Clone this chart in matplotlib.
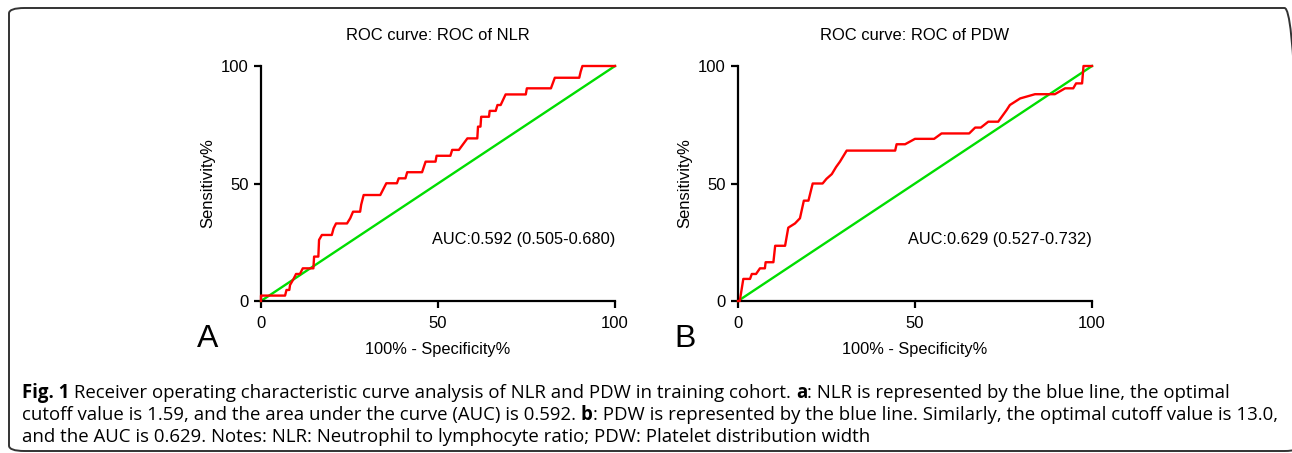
import matplotlib

matplotlib.use("Agg")
import matplotlib.pyplot as plt  # noqa: E402
from matplotlib.patches import FancyBboxPatch  # noqa: E402

plt.rcParams["font.family"] = ["Liberation Sans", "DejaVu Sans"]

# ROC of NLR: 100% - specificity (x) and sensitivity (y)
nlr_x = [0, 0, 6.8, 7.2, 8.0, 8.2, 9.2, 9.9, 11.0, 11.8, 14.8, 15.0, 16.2, 16.4,
         17.2, 20.0, 20.5, 21.2, 24.3, 25.2, 26.0, 28.0, 28.3, 29.0, 33.7, 35.4,
         38.4, 38.9, 40.8, 41.3, 45.5, 46.5, 49.3, 49.6, 53.5, 54.0, 55.9, 58.3,
         61.1, 61.3, 62.0, 62.2, 64.4, 64.6, 66.3, 66.8, 67.7, 69.1, 74.8, 75.1,
         81.9, 83.0, 89.9, 90.3, 90.8, 100]
nlr_y = [0, 2.3, 2.3, 4.7, 4.7, 6.8, 9.4, 11.5, 11.5, 13.9, 13.9, 18.9, 18.9, 26.0,
         28.1, 28.1, 30.9, 33.0, 33.0, 35.2, 38.0, 38.0, 41.0, 45.1, 45.1, 50.1,
         50.1, 52.2, 52.2, 54.8, 54.8, 59.3, 59.3, 61.8, 61.8, 64.3, 64.3, 69.2,
         69.2, 74.2, 74.2, 78.4, 78.4, 80.9, 80.9, 83.4, 83.4, 87.9, 87.9, 90.5,
         90.5, 95.0, 95.0, 97.6, 100, 100]

# ROC of PDW
pdw_x = [0, 0.5, 1.0, 1.5, 3.4, 3.9, 5.1, 6.2, 7.6, 7.8, 10.0, 10.5, 13.3, 14.2,
         16.1, 17.5, 18.6, 19.9, 21.1, 23.9, 25.0, 26.5, 27.7, 28.8, 30.7, 44.4,
         44.8, 47.2, 50.0, 55.4, 57.5, 65.3, 67.0, 68.6, 70.7, 73.5, 75.9, 76.8,
         79.7, 83.9, 89.5, 92.4, 94.7, 95.5, 97.2, 97.6, 100]
pdw_y = [0, 0, 4.7, 9.4, 9.4, 11.5, 11.5, 13.9, 13.9, 16.5, 16.5, 23.5, 23.5, 31.2,
         33.0, 35.2, 42.7, 42.7, 50.0, 50.0, 52.0, 54.0, 57.0, 59.3, 64.0, 64.0,
         66.7, 66.7, 69.0, 69.0, 71.3, 71.3, 73.8, 73.8, 76.3, 76.3, 81.3, 83.4,
         86.2, 88.0, 88.0, 90.5, 90.5, 92.6, 92.6, 100, 100]

ref_line = [0, 100]
ticks = [0, 50, 100]
titles = ["ROC curve: ROC of NLR", "ROC curve: ROC of PDW"]
auc_labels = ["AUC:0.592 (0.505-0.680)", "AUC:0.629 (0.527-0.732)"]
panel_letters = ["A", "B"]

caption_lines = [
    [("Fig. 1", True),
     (" Receiver operating characteristic curve analysis of NLR and PDW in training cohort. ", False),
     ("a", True),
     (": NLR is represented by the blue line, the optimal", False)],
    [("cutoff value is 1.59, and the area under the curve (AUC) is 0.592. ", False),
     ("b", True),
     (": PDW is represented by the blue line. Similarly, the optimal cutoff value is 13.0,", False)],
    [("and the AUC is 0.629. Notes: NLR: Neutrophil to lymphocyte ratio; PDW: Platelet distribution width", False)],
]

W, H = 1292, 453
fig = plt.figure(figsize=(W / 100, H / 100), dpi=100)

# rounded frame around the figure
frame = FancyBboxPatch((9 / W, 2 / H), (1300 - 9) / W, (445 - 2) / H,
                       boxstyle="round,pad=0,rounding_size=0.012",
                       transform=fig.transFigure, fill=False,
                       edgecolor="#333333", linewidth=1.4, clip_on=False)
fig.patches.append(frame)

curves = [(nlr_x, nlr_y), (pdw_x, pdw_y)]
lefts = [261, 738]
for i, (cx, cy) in enumerate(curves):
    ax = fig.add_axes([lefts[i] / W, (H - 301) / H, 354 / W, 235 / H])
    ax.plot(ref_line, ref_line, color="#00dd00", lw=1.7, clip_on=False, zorder=2)
    ax.plot(cx, cy, color="#ff0000", lw=1.7, clip_on=False, zorder=3)
    ax.set_xlim(0, 100)
    ax.set_ylim(0, 100)
    ax.set_xticks(ticks)
    ax.set_yticks(ticks)
    for side in ["top", "right"]:
        ax.spines[side].set_visible(False)
    for side in ["left", "bottom"]:
        ax.spines[side].set_linewidth(1.6)
    ax.tick_params(direction="out", length=5, width=1.6, labelsize=12, pad=4)
    ax.tick_params(axis="x", pad=6)
    ax.set_title(titles[i], fontsize=11.9, pad=19)
    ax.set_xlabel("100% - Specificity%", fontsize=11.8, labelpad=8)
    ax.set_ylabel("Sensitivity%", fontsize=12, labelpad=4)
    ax.text(100, 26, auc_labels[i], ha="right", va="center", fontsize=11.8)
    ax.text(-15, -16, panel_letters[i], ha="center", va="center", fontsize=23,
            transform=ax.transData)

# caption with mixed bold/regular runs, sized so the first line spans the box
fig.canvas.draw()
renderer = fig.canvas.get_renderer()
cap_font = ["Open Sans", "DejaVu Sans"]
probe_w = 0
for txt, bold in caption_lines[0]:
    t = fig.text(0, 0, txt, fontsize=10, family=cap_font,
                 fontweight="bold" if bold else "normal")
    probe_w += t.get_window_extent(renderer=renderer).width
    t.remove()
cap_size = 10 * (1234 - 22) / probe_w

line_y = [393, 415, 437]
for row, parts in enumerate(caption_lines):
    x = 22
    for txt, bold in parts:
        t = fig.text(x / W, 1 - line_y[row] / H, txt, ha="left", va="center",
                     fontsize=cap_size, family=cap_font,
                     fontweight="bold" if bold else "normal")
        x += t.get_window_extent(renderer=renderer).width

fig.savefig("out.png", dpi=100)
